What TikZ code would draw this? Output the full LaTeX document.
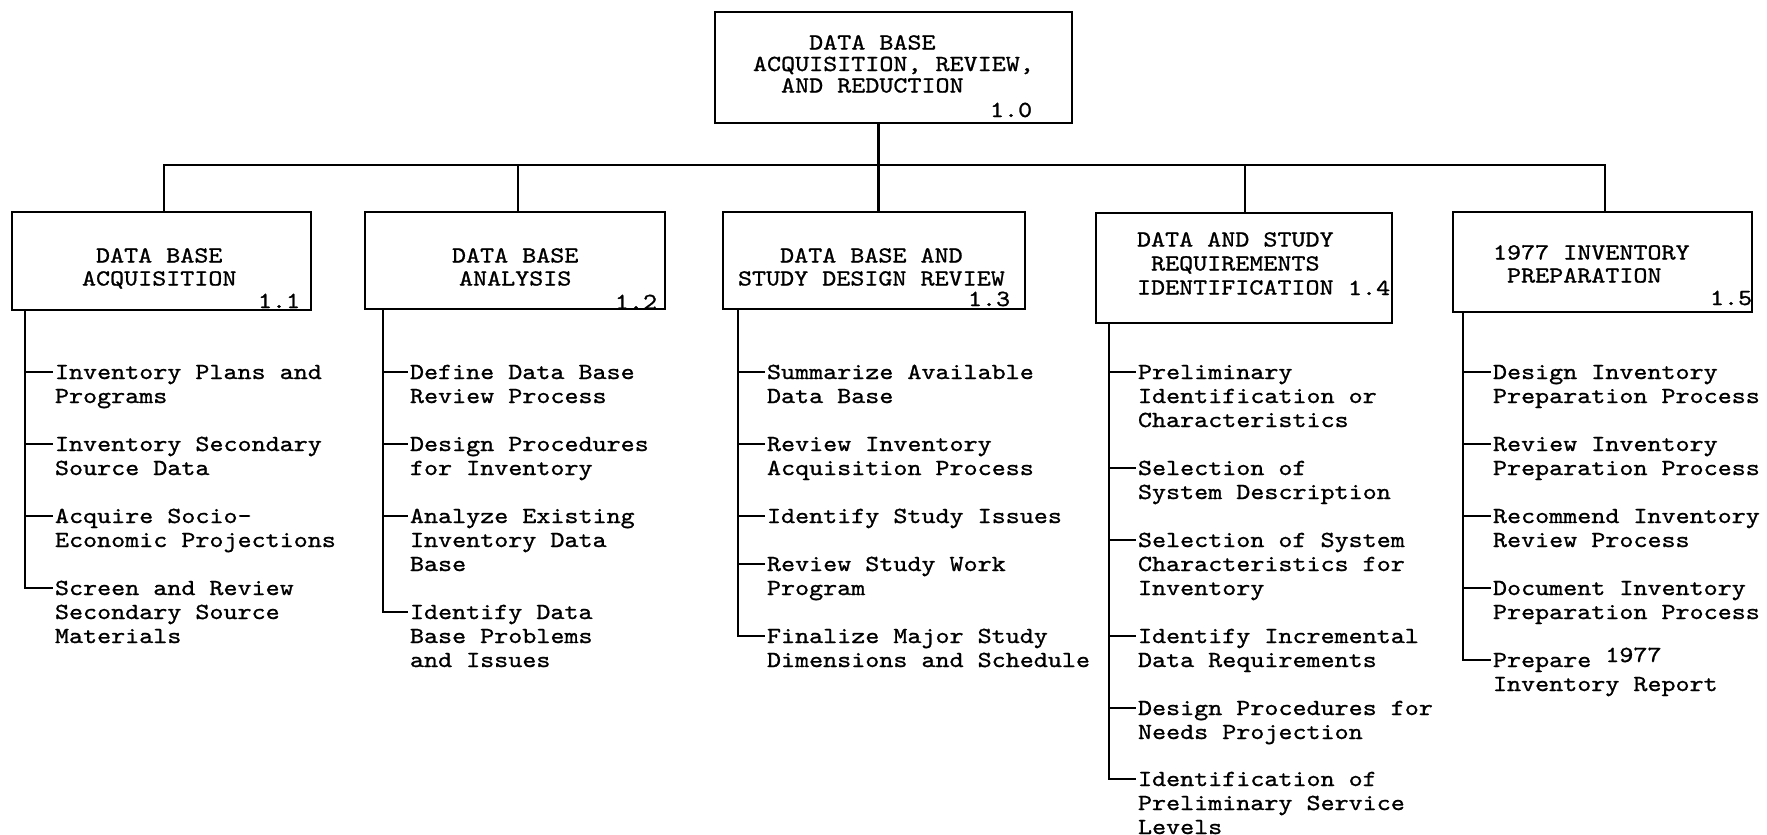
\documentclass[tikz,border=0pt]{standalone}
\usepackage{fontspec}
% serif typewriter face, widened to a 14pt character pitch
\setmainfont{lmmono10-regular.otf}[FakeStretch=1.163,FakeBold=1]
\frenchspacing
\newcommand\tw{\fontsize{23pt}{24pt}\selectfont}
% stacked lines with a fixed pitch; the box baseline is the first line
\newcommand\lns[2]{\vtop{\baselineskip=#1\relax\lineskiplimit=-\maxdimen\lineskip=0pt\halign{##\hfil\cr#2\crcr}}}
% indent by a number of typewriter characters
\newcommand\ind[1]{\kern#1\dimexpr0.6105em\relax}

\begin{document}
\begin{tikzpicture}[x=1pt,y=-1pt,
  link/.style={line width=2.4pt,line cap=rect,line join=miter},
  box/.style={draw,line width=2.4pt,inner sep=0pt,outer sep=0pt,anchor=north west},
  lbl/.style={inner sep=0pt,outer sep=0pt,anchor=base west,font=\tw},
  item/.style={lbl}]
\fill[white] (0,0) rectangle (1767,835);
\useasboundingbox (0,0) rectangle (1767,835);

% ---------- boxes ----------
\node[box,minimum width=357pt,minimum height=111pt] (top) at (715,12) {};
\node[box,minimum width=299pt,minimum height=98pt]  (b11) at (12,212) {};
\node[box,minimum width=300pt,minimum height=97pt]  (b12) at (365,212) {};
\node[box,minimum width=302pt,minimum height=97pt]  (b13) at (723,212) {};
\node[box,minimum width=296pt,minimum height=110pt] (b14) at (1096,213) {};
\node[box,minimum width=299pt,minimum height=100pt] (b15) at (1453,212) {};

% ---------- box titles ----------
\node[lbl] (ttop) at (753,49.5) {\lns{21.5pt}{\ind4DATA BASE\cr ACQUISITION, REVIEW,\cr \ind2AND REDUCTION}};
\node[lbl] (ntop) at (990,117) {1.0};
\node[lbl] (t11) at (82,262.5) {\lns{23pt}{\ind1DATA BASE\cr ACQUISITION}};
\node[lbl] (n11) at (258,308) {1.1};
\node[lbl] (t12) at (452,262.5) {\lns{23pt}{DATA BASE\cr \ind{0.5}ANALYSIS}};
\node[lbl] (n12) at (615,309) {1.2};
\node[lbl] (t13) at (738,262.5) {\lns{23pt}{\ind3DATA BASE AND\cr STUDY DESIGN REVIEW}};
\node[lbl] (n13) at (968,306) {1.3};
\node[lbl] (t14) at (1137,246.5) {\lns{24pt}{DATA AND STUDY\cr \ind1REQUIREMENTS\cr IDENTIFICATION}};
\node[lbl] (n14) at (1348,295) {1.4};
\node[lbl] (t15) at (1493,259.5) {\lns{23pt}{1977 INVENTORY\cr \ind1PREPARATION}};
\node[lbl] (n15) at (1710,305) {1.5};

% ---------- connector positions ----------
\coordinate (bus) at (0,165);
\coordinate (s1) at (164,0);
\coordinate (s2) at (518,0);
\coordinate (s3) at (878.5,0);
\coordinate (s4) at (1245,0);
\coordinate (s5) at (1605,0);
\coordinate (k1) at (25,0);
\coordinate (k2) at (383,0);
\coordinate (k3) at (738,0);
\coordinate (k4) at (1109,0);
\coordinate (k5) at (1463,0);

% ---------- tree ----------
\draw[link] (b11.north -| s1) -- (s1 |- bus) -- (s5 |- bus) -- (b15.north -| s5);
\draw[link] (top.south -| s3) -- (b13.north -| s3);
\draw[link] (s2 |- bus) -- (b12.north -| s2);
\draw[link] (s4 |- bus) -- (b14.north -| s4);

% ---------- task lists ----------
\node[item] (a1) at (55,379) {\lns{24pt}{Inventory Plans and\cr Programs}};
\node[item] (a2) at (55,451) {\lns{24pt}{Inventory Secondary\cr Source Data}};
\node[item] (a3) at (55,523) {\lns{24pt}{Acquire Socio-\cr Economic Projections}};
\node[item] (a4) at (55,595) {\lns{24pt}{Screen and Review\cr Secondary Source\cr Materials}};

\node[item] (b1) at (410,379) {\lns{24pt}{Define Data Base\cr Review Process}};
\node[item] (b2) at (410,451) {\lns{24pt}{Design Procedures\cr for Inventory}};
\node[item] (b3) at (410,523) {\lns{24pt}{Analyze Existing\cr Inventory Data\cr Base}};
\node[item] (b4) at (410,619) {\lns{24pt}{Identify Data\cr Base Problems\cr and Issues}};

\node[item] (c1) at (767,379) {\lns{24pt}{Summarize Available\cr Data Base}};
\node[item] (c2) at (767,451) {\lns{24pt}{Review Inventory\cr Acquisition Process}};
\node[item] (c3) at (767,523) {Identify Study Issues};
\node[item] (c4) at (767,571) {\lns{24pt}{Review Study Work\cr Program}};
\node[item] (c5) at (767,643) {\lns{24pt}{Finalize Major Study\cr Dimensions and Schedule}};

\node[item] (d1) at (1138,379) {\lns{24pt}{Preliminary\cr Identification or\cr Characteristics}};
\node[item] (d2) at (1138,475) {\lns{24pt}{Selection of\cr System Description}};
\node[item] (d3) at (1138,547) {\lns{24pt}{Selection of System\cr Characteristics for\cr Inventory}};
\node[item] (d4) at (1138,643) {\lns{24pt}{Identify Incremental\cr Data Requirements}};
\node[item] (d5) at (1138,715) {\lns{24pt}{Design Procedures for\cr Needs Projection}};
\node[item] (d6) at (1138,786) {\lns{24pt}{Identification of\cr Preliminary Service\cr Levels}};

\node[item] (e1) at (1493,379) {\lns{24pt}{Design Inventory\cr Preparation Process}};
\node[item] (e2) at (1493,451) {\lns{24pt}{Review Inventory\cr Preparation Process}};
\node[item] (e3) at (1493,523) {\lns{24pt}{Recommend Inventory\cr Review Process}};
\node[item] (e4) at (1493,595) {\lns{24pt}{Document Inventory\cr Preparation Process}};
\node[item] (e5) at (1493,667) {\lns{24pt}{Prepare \raisebox{5pt}{1977}\cr Inventory Report}};

% tick ends, just left of each item's first line
\foreach \i in {a1,a2,a3,a4,b1,b2,b3,b4,c1,c2,c3,c4,c5,d1,d2,d3,d4,d5,d6,e1,e2,e3,e4,e5}
  \coordinate (\i k) at ([xshift=-3pt,yshift=7pt]\i.base west);

% trunks with their last tick
\draw[link] (b11.south -| k1) |- (a4k);
\draw[link] (b12.south -| k2) |- (b4k);
\draw[link] (b13.south -| k3) |- (c5k);
\draw[link] (b14.south -| k4) |- (d6k);
\draw[link] (b15.south -| k5) |- (e5k);

% remaining ticks
\foreach \i in {a1,a2,a3} \draw[link] (\i k -| k1) -- (\i k);
\foreach \i in {b1,b2,b3} \draw[link] (\i k -| k2) -- (\i k);
\foreach \i in {c1,c2,c3,c4} \draw[link] (\i k -| k3) -- (\i k);
\foreach \i in {d1,d2,d3,d4,d5} \draw[link] (\i k -| k4) -- (\i k);
\foreach \i in {e1,e2,e3,e4} \draw[link] (\i k -| k5) -- (\i k);
\end{tikzpicture}
\end{document}
